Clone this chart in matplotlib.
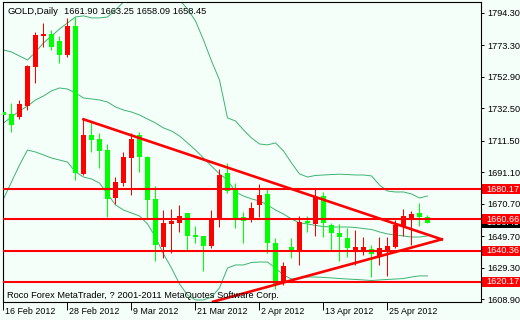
import numpy as np
import matplotlib.pyplot as plt
from matplotlib.patches import Rectangle
from matplotlib.transforms import blended_transform_factory

# GOLD daily candles, 16 Feb 2012 .. 2 May 2012
opens = [1730.1, 1728.8, 1726.7, 1734.0, 1759.5, 1779.4, 1780.7, 1776.2, 1767.1, 1786.1,
         1690.0, 1715.2, 1712.6, 1705.5, 1674.2, 1684.3, 1700.5, 1715.2, 1701.2, 1673.6,
         1642.8, 1657.6, 1658.4, 1664.5, 1650.4, 1649.8, 1643.3, 1661.2, 1690.8, 1680.2,
         1661.9, 1660.6, 1669.9, 1677.0, 1645.0, 1619.1, 1642.8, 1640.7, 1659.5, 1657.6,
         1675.7, 1656.9, 1651.9, 1648.7, 1640.3, 1640.3, 1641.2, 1636.4, 1640.3, 1642.8,
         1656.3, 1660.6, 1664.5, 1661.90]
highs = [1730.5, 1736.0, 1737.9, 1760.5, 1782.2, 1787.6, 1783.3, 1779.4, 1790.9, 1791.9,
         1725.4, 1723.9, 1716.3, 1709.4, 1687.8, 1704.4, 1716.3, 1717.4, 1701.5, 1682.2,
         1666.6, 1667.1, 1669.9, 1664.8, 1656.3, 1650.0, 1666.6, 1693.0, 1697.3, 1684.3,
         1665.5, 1672.0, 1683.5, 1680.7, 1648.3, 1633.1, 1648.3, 1662.7, 1662.7, 1680.0,
         1678.5, 1658.4, 1657.6, 1654.8, 1653.7, 1648.9, 1643.9, 1649.3, 1648.8, 1660.1,
         1667.3, 1666.2, 1671.4, 1663.25]
lows = [1705.5, 1717.2, 1725.4, 1731.4, 1749.1, 1772.5, 1770.3, 1761.7, 1766.0, 1686.1,
        1689.5, 1704.4, 1693.7, 1662.3, 1670.5, 1682.2, 1676.3, 1691.4, 1661.2, 1633.8,
        1635.3, 1639.0, 1652.6, 1640.7, 1645.0, 1627.3, 1641.8, 1655.4, 1677.4, 1654.8,
        1645.0, 1659.0, 1662.3, 1638.6, 1615.5, 1618.0, 1635.3, 1631.0, 1652.6, 1649.8,
        1648.9, 1640.7, 1633.8, 1636.4, 1631.0, 1637.5, 1623.0, 1631.0, 1623.6, 1642.3,
        1649.8, 1643.9, 1656.3, 1658.09]
closes = [1728.2, 1721.7, 1735.1, 1760.1, 1780.0, 1780.7, 1772.5, 1767.1, 1786.1, 1690.4,
          1715.2, 1711.9, 1704.9, 1673.8, 1685.0, 1701.2, 1712.6, 1701.2, 1673.1, 1643.9,
          1658.0, 1659.5, 1662.7, 1649.8, 1649.1, 1643.3, 1660.6, 1689.3, 1679.1, 1660.6,
          1659.7, 1667.7, 1676.3, 1645.0, 1618.7, 1630.3, 1639.6, 1659.0, 1658.0, 1675.2,
          1658.0, 1651.5, 1649.3, 1641.8, 1642.8, 1642.8, 1638.1, 1642.2, 1643.3, 1656.9,
          1662.7, 1664.0, 1661.9, 1658.45]

# Bollinger bands
bb_upper = [1770.3, 1769.0, 1766.4, 1763.8, 1769.0, 1774.9, 1779.4, 1783.9, 1787.8, 1791.7,
            1792.4, 1791.1, 1791.1, 1791.7, 1796.2, 1801.4, 1806.6, 1809.2, 1810.5, 1810.5,
            1809.2, 1806.6, 1802.7, 1796.9, 1789.1, 1776.8, 1763.2, 1750.9, 1726.3, 1724.3,
            1718.5, 1713.3, 1709.4, 1708.8, 1710.1, 1704.9, 1697.1, 1690.0, 1688.0, 1689.0,
            1689.3, 1689.6, 1689.8, 1689.6, 1689.3, 1689.3, 1688.7, 1682.8, 1678.9, 1678.3,
            1678.3, 1677.0, 1674.4, 1675.7]
bb_middle = [1723.0, 1726.9, 1730.8, 1734.0, 1737.9, 1740.5, 1743.8, 1745.7, 1745.0, 1742.5,
             1739.2, 1738.6, 1737.9, 1736.6, 1733.4, 1731.4, 1730.1, 1728.2, 1725.6, 1723.0,
             1719.8, 1717.8, 1714.6, 1710.1, 1705.5, 1700.3, 1695.1, 1690.0, 1686.1, 1678.3,
             1675.7, 1673.8, 1672.5, 1669.9, 1666.6, 1664.0, 1660.8, 1658.2, 1657.6, 1656.6,
             1655.9, 1655.6, 1655.6, 1655.6, 1655.3, 1654.6, 1654.0, 1652.4, 1651.1, 1650.4,
             1649.8, 1649.1, 1649.1, 1649.8]
bb_lower = [1673.8, 1684.8, 1695.8, 1705.5, 1704.2, 1702.3, 1700.3, 1699.0, 1697.7, 1691.3,
            1688.0, 1686.7, 1684.1, 1677.0, 1669.9, 1666.6, 1664.7, 1662.7, 1657.6, 1649.1,
            1638.1, 1629.0, 1618.7, 1611.5, 1608.3, 1608.3, 1610.2, 1616.1, 1629.0, 1631.0,
            1631.0, 1632.6, 1632.9, 1632.9, 1629.0, 1624.5, 1621.9, 1622.6, 1623.2, 1623.2,
            1622.9, 1622.6, 1622.2, 1621.9, 1621.6, 1621.3, 1620.9, 1621.3, 1621.6, 1621.9,
            1622.2, 1623.2, 1623.9, 1623.9]

levels = [1680.17, 1660.66, 1640.36, 1620.17]
bid = 1658.45

# trend lines (bar index, price)
tri_upper_x = [10, 54.78]
tri_upper_y = [1725.4, 1647.6]
tri_lower_x = [26.2, 54.78]
tri_lower_y = [1607.2, 1647.6]

date_pos = [0, 8, 16, 24, 32, 40, 48]
date_labels = ['16 Feb 2012', '28 Feb 2012', '9 Mar 2012', '21 Mar 2012',
               '2 Apr 2012', '13 Apr 2012', '25 Apr 2012']
price_ticks = [1794.30, 1773.30, 1752.90, 1732.50, 1711.50, 1691.10,
               1670.70, 1649.70, 1629.30, 1608.90]

W, H = 520, 320
bg = '#F5FFFA'
band_c = '#3CB371'
plt.rcParams['font.family'] = ['Liberation Sans', 'DejaVu Sans']

fig = plt.figure(figsize=(W / 100, H / 100), dpi=100, facecolor=bg)
ax = fig.add_axes([3 / W, 18 / H, 478 / W, 300 / H], facecolor=bg)

x = np.arange(len(opens))
o = np.array(opens)
c = np.array(closes)
cols = ['#FF0000' if cc >= oo else '#00FF00' for oo, cc in zip(o, c)]

for band in (bb_upper, bb_middle, bb_lower):
    ax.plot(x, band, color=band_c, lw=0.7, zorder=1)

ax.vlines(x, lows, highs, colors=cols, lw=0.75, zorder=2)
ax.bar(x, np.maximum(np.abs(c - o), 0.7), bottom=np.minimum(o, c), width=0.625,
       color=cols, linewidth=0, zorder=3)

for lev in levels:
    ax.axhline(lev, color='#FF0000', lw=1.5, zorder=4)
ax.plot(tri_upper_x, tri_upper_y, color='#FF0000', lw=1.9, zorder=4)
ax.plot(tri_lower_x, tri_lower_y, color='#FF0000', lw=1.9, zorder=4)

ax.set_xlim(-0.0625, 59.69)
ax.set_ylim(1607.0, 1801.4)

for s in ax.spines.values():
    s.set_color('black')
    s.set_linewidth(0.8)

ax.yaxis.tick_right()
ax.set_yticks(price_ticks)
ax.set_yticklabels([f'{v:.2f}' for v in price_ticks])
ax.tick_params(axis='y', direction='out', length=2.2, width=0.7, pad=2.5,
               labelsize=6.6, colors='black')
ax.set_xticks(date_pos)
ax.set_xticklabels([])
ax.tick_params(axis='x', direction='out', length=5.5, width=0.7)
for p, lab in zip(date_pos, date_labels):
    ax.annotate(lab, xy=(p, 0), xycoords=('data', 'axes fraction'), xytext=(2, -9),
                textcoords='offset pixels', ha='left', va='center', fontsize=6.4)

# price labels on the right scale
trans = blended_transform_factory(fig.transFigure, ax.transData)
half = 5 * (1801.4 - 1607.0) / 300

# bid label, mostly hidden under the 1660.66 label
ax.add_patch(Rectangle((482 / W, bid - half), (W - 482) / W, 2 * half,
                       transform=trans, facecolor='black', edgecolor='none',
                       clip_on=False, zorder=5))
bid_txt = ax.text(486 / W, bid, f'{bid:.2f}', transform=trans, color='white',
                  va='center', ha='left', fontsize=6.6, zorder=5.5)
bid_clip = Rectangle((482 / W, 1607.0), (W - 482) / W, levels[1] - half - 1607.0,
                     transform=trans, visible=False)
fig.add_artist(bid_clip)
bid_txt.set_clip_path(bid_clip)

for lev in levels:
    ax.add_patch(Rectangle((482 / W, lev - half), (W - 482) / W, 2 * half,
                           transform=trans, facecolor='#FF0000', edgecolor='none',
                           clip_on=False, zorder=6))
    ax.text(486 / W, lev, f'{lev:.2f}', transform=trans, color='white',
            va='center', ha='left', fontsize=6.6, clip_on=False, zorder=7)

fig.text(7 / W, 1 - 11 / H, 'GOLD,Daily', fontsize=6.8, va='center')
fig.text(64 / W, 1 - 11 / H,
         f'{opens[-1]:.2f} {highs[-1]:.2f} {lows[-1]:.2f} {closes[-1]:.2f}',
         fontsize=6.7, va='center')
fig.text(7 / W, (H - 295.5) / H,
         'Roco Forex MetaTrader, ? 2001-2011 MetaQuotes Software Corp.',
         fontsize=6.7, va='center')

fig.savefig('out.png', dpi=100, facecolor=bg)
